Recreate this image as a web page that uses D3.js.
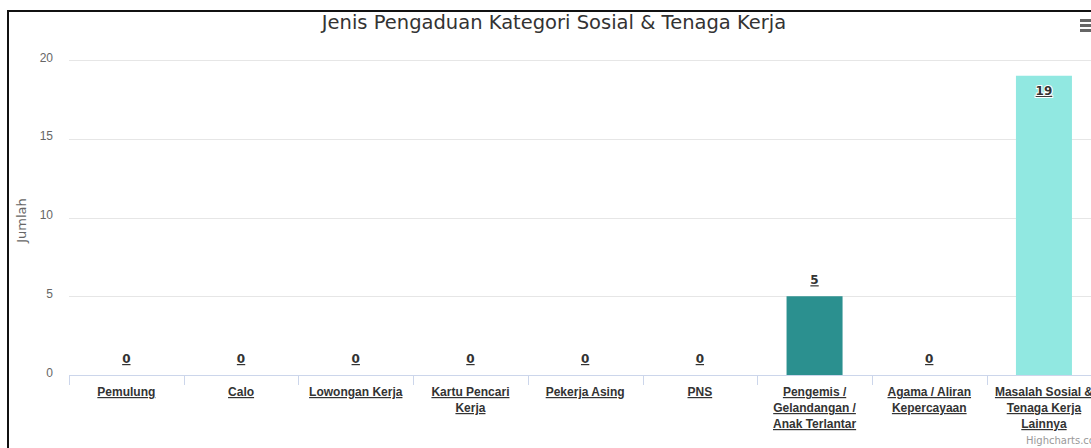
<!DOCTYPE html>
<html>
<head>
<meta charset="utf-8">
<script src="https://cdn.jsdelivr.net/npm/d3@7.9.0/dist/d3.min.js"></script>
<style>
  html, body { margin: 0; padding: 0; background: #fff; }
  svg { display: block; font-family: "DejaVu Sans", sans-serif; }
</style>
</head>
<body>
<div id="chart"></div>
<script>
// chart data
const categories = [
  'Pemulung', 'Calo', 'Lowongan Kerja', 'Kartu Pencari Kerja', 'Pekerja Asing',
  'PNS', 'Pengemis / Gelandangan / Anak Terlantar', 'Agama / Aliran Kepercayaan',
  'Masalah Sosial & Tenaga Kerja Lainnya'
];
const values = [0, 0, 0, 0, 0, 0, 5, 0, 19];
const colors = ['#7cb5ec', '#434348', '#90ed7d', '#f7a35c', '#8085e9',
  '#f15c80', '#2b908f', '#f45b5b', '#91e8e1'];
const yTicks = [0, 5, 10, 15, 20];

const width = 1091;
const height = 448;
const plot = { left: 69, right: 69 + 9 * 114.7, top: 60, bottom: 375 };

const svg = d3.select('#chart')
  .append('svg')
  .attr('width', width)
  .attr('height', height);

// frame around the chart
svg.append('rect')
  .attr('x', 8).attr('y', 11)
  .attr('width', width + 20).attr('height', height + 20)
  .attr('fill', 'none')
  .attr('stroke', '#111')
  .attr('stroke-width', 2);

const x = d3.scaleBand()
  .domain(categories)
  .range([plot.left, plot.right]);

const y = d3.scaleLinear()
  .domain([0, 20])
  .range([plot.bottom, plot.top]);

// gridlines
svg.append('g')
  .selectAll('line')
  .data(yTicks.filter((d) => d > 0))
  .join('line')
  .attr('x1', plot.left).attr('x2', plot.right)
  .attr('y1', (d) => Math.round(y(d)) + 0.5)
  .attr('y2', (d) => Math.round(y(d)) + 0.5)
  .attr('stroke', '#e6e6e6');

// y axis labels
const yAxis = svg.append('g')
  .attr('transform', `translate(${plot.left - 16}, 0)`)
  .call(d3.axisLeft(y).tickValues(yTicks).tickSize(0).tickPadding(0));
yAxis.select('.domain').remove();
yAxis.selectAll('text')
  .attr('fill', '#666')
  .style('font-size', '12px')
  .attr('dy', '0.1em');

svg.append('text')
  .attr('transform', `translate(26, ${(plot.top + plot.bottom) / 2 + 3}) rotate(-90)`)
  .attr('text-anchor', 'middle')
  .attr('fill', '#666')
  .style('font-size', '13px')
  .text('Jumlah');

// bars
const barWidth = 56;
svg.append('g')
  .selectAll('rect')
  .data(categories)
  .join('rect')
  .attr('x', (d) => x(d) + x.bandwidth() / 2 - barWidth / 2)
  .attr('y', (d, i) => y(values[i]))
  .attr('width', barWidth)
  .attr('height', (d, i) => y(0) - y(values[i]))
  .attr('fill', (d, i) => colors[i]);

// x axis line and ticks
svg.append('line')
  .attr('x1', plot.left).attr('x2', plot.right)
  .attr('y1', plot.bottom + 0.5).attr('y2', plot.bottom + 0.5)
  .attr('stroke', '#ccd6eb');

svg.append('g')
  .selectAll('line')
  .data(categories)
  .join('line')
  .attr('x1', (d) => Math.round(x(d)) + 0.5)
  .attr('x2', (d) => Math.round(x(d)) + 0.5)
  .attr('y1', plot.bottom)
  .attr('y2', plot.bottom + 10)
  .attr('stroke', '#ccd6eb');

// x labels, wrapped to the slot width
function wrap(text, maxWidth) {
  text.each(function () {
    const t = d3.select(this);
    const words = t.text().split(/\s+/);
    t.text(null);
    let line = [];
    let tspan = t.append('tspan').attr('x', 0).attr('dy', 0);
    for (const w of words) {
      line.push(w);
      tspan.text(line.join(' '));
      if (tspan.node().getComputedTextLength() > maxWidth && line.length > 1) {
        line.pop();
        tspan.text(line.join(' '));
        line = [w];
        tspan = t.append('tspan').attr('x', 0).attr('dy', '16px').text(w);
      }
    }
  });
}

const xAxis = svg.append('g')
  .attr('transform', `translate(0, ${plot.bottom})`)
  .call(d3.axisBottom(x).tickSize(0).tickPadding(0));
xAxis.select('.domain').remove();
xAxis.selectAll('text')
  .attr('y', 21)
  .attr('dy', 0)
  .attr('fill', '#333')
  .style('font-size', '12px')
  .style('font-weight', 'bold')
  .style('text-decoration', 'underline')
  .call(wrap, 106);

// data labels
svg.append('g')
  .selectAll('text')
  .data(categories)
  .join('text')
  .attr('x', (d) => x(d) + x.bandwidth() / 2)
  .attr('y', (d, i) => values[i] >= 19 ? y(values[i]) + 19 : y(values[i]) - 12)
  .attr('text-anchor', 'middle')
  .attr('fill', '#333')
  .attr('stroke', '#fff')
  .attr('stroke-width', 2)
  .attr('paint-order', 'stroke')
  .style('font-size', '12px')
  .style('font-weight', 'bold')
  .style('text-decoration', 'underline')
  .text((d, i) => values[i]);

// title
svg.append('text')
  .attr('x', 554)
  .attr('y', 29)
  .attr('text-anchor', 'middle')
  .attr('fill', '#333')
  .style('font-size', '19.5px')
  .text('Jenis Pengaduan Kategori Sosial & Tenaga Kerja');

// menu icon
svg.append('g')
  .selectAll('line')
  .data([0, 1, 2])
  .join('line')
  .attr('x1', 1080).attr('x2', 1095)
  .attr('y1', (d) => 20.5 + d * 5)
  .attr('y2', (d) => 20.5 + d * 5)
  .attr('stroke', '#666')
  .attr('stroke-width', 3);

// credits
svg.append('text')
  .attr('x', 1026)
  .attr('y', 444)
  .attr('fill', '#999')
  .style('font-size', '10px')
  .text('Highcharts.com');
</script>
</body>
</html>
